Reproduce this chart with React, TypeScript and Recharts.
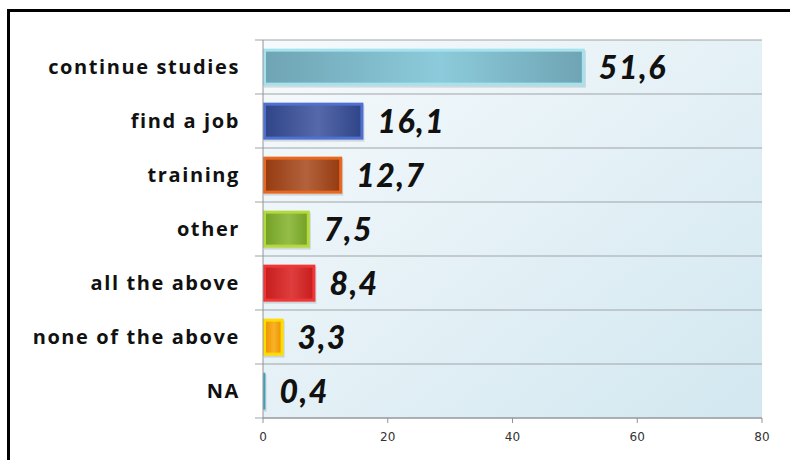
import { Bar, BarChart, CartesianGrid, Cell, LabelList, XAxis, YAxis } from "recharts";

const categories = [
  "continue studies",
  "find a job",
  "training",
  "other",
  "all the above",
  "none of the above",
  "NA",
];
const values = [51.6, 16.1, 12.7, 7.5, 8.4, 3.3, 0.4];
const xTicks = [0, 20, 40, 60, 80];

// bevel colours: edge, dark body, light centre
const edgeColors = ["#a6e2ee", "#4f70d0", "#e8681f", "#b3da3c", "#f03636", "#ffdc00", "#55b4cc"];
const bodyColors = ["#6fa4b4", "#304688", "#963c12", "#76a228", "#c81e1e", "#ef9600", "#33859c"];
const lightColors = ["#8ccbdb", "#5568aa", "#b3623c", "#93bd48", "#df3e3e", "#f9b228", "#4aa0b8"];

const data = categories.map((name, i) => ({ name, value: values[i] }));

const fmt = (v: number) => v.toFixed(1).replace(".", ",");

const BevelBar = (props: any) => {
  const { x, y, width, height, index } = props;
  if (width <= 0) return null;
  const b = Math.min(3, width / 3);
  return (
    <g>
      <rect x={x + 1} y={y + 2} width={width} height={height} fill="rgba(0,0,0,0.12)" />
      <rect x={x} y={y} width={width} height={height} fill={edgeColors[index]} />
      <rect
        x={x + b}
        y={y + b}
        width={Math.max(width - 2 * b, 0)}
        height={height - 2 * b}
        fill={`url(#barGrad${index})`}
      />
    </g>
  );
};

const GridLine = (props: any) => {
  const { x1, x2, y1, y2 } = props;
  return <line x1={x1 - 8} x2={x2} y1={y1} y2={y2} stroke="#a0a4a8" strokeWidth={1.2} />;
};

export default function App() {
  return (
    <div
      style={{
        position: "absolute",
        left: 0,
        top: 0,
        width: 790,
        height: 460,
        overflow: "hidden",
        background: "#fff",
      }}
    >
      <div
        style={{
          position: "absolute",
          left: 7,
          top: 9,
          width: 820,
          height: 520,
          border: "3px solid #000",
        }}
      />
      <div style={{ position: "absolute", left: 0, top: 0 }}>
        <BarChart
          width={790}
          height={460}
          data={data}
          layout="vertical"
          margin={{ top: 40, right: 28, bottom: 12, left: 0 }}
          barCategoryGap="16%"
        >
          <defs>
            <linearGradient id="bgGrad" x1="0" y1="0" x2="1" y2="1">
              <stop offset="0%" stopColor="#f6fafc" />
              <stop offset="100%" stopColor="#d2e7f0" />
            </linearGradient>
            {bodyColors.map((c, i) => (
              <linearGradient key={i} id={`barGrad${i}`} x1="0" y1="0" x2="1" y2="0">
                <stop offset="0%" stopColor={c} />
                <stop offset="55%" stopColor={lightColors[i]} />
                <stop offset="100%" stopColor={c} />
              </linearGradient>
            ))}
          </defs>
          <CartesianGrid
            vertical={false}
            fill="url(#bgGrad)"
            horizontal={GridLine}
            horizontalCoordinatesGenerator={({ offset }: any) =>
              Array.from({ length: categories.length + 1 }, (_, i) => offset.top + (i * offset.height) / categories.length)
            }
          />
          <XAxis
            type="number"
            domain={[0, 80]}
            ticks={xTicks}
            tickSize={5}
            tickMargin={9}
            axisLine={{ stroke: "#909498" }}
            tickLine={{ stroke: "#909498" }}
            tick={{ fontSize: 12, fill: "#333", fontFamily: "DejaVu Sans" }}
          />
          <YAxis
            type="category"
            dataKey="name"
            width={263}
            tickLine={false}
            tickSize={0}
            tickMargin={23}
            axisLine={{ stroke: "#909498" }}
            tick={{ fontSize: 20, fill: "#111", fontFamily: "Open Sans", fontWeight: 700, letterSpacing: 1.6 }}
          />
          <Bar dataKey="value" isAnimationActive={false} shape={BevelBar}>
            {data.map((_, i) => (
              <Cell key={i} fill={bodyColors[i]} />
            ))}
            <LabelList
              dataKey="value"
              position="right"
              offset={14}
              formatter={(v: any) => fmt(Number(v))}
              style={{
                fontSize: 32,
                fontWeight: 900,
                fontStyle: "italic",
                fontFamily: "Lato",
                fill: "#111",
                letterSpacing: 1.5,
              }}
            />
          </Bar>
        </BarChart>
      </div>
    </div>
  );
}
